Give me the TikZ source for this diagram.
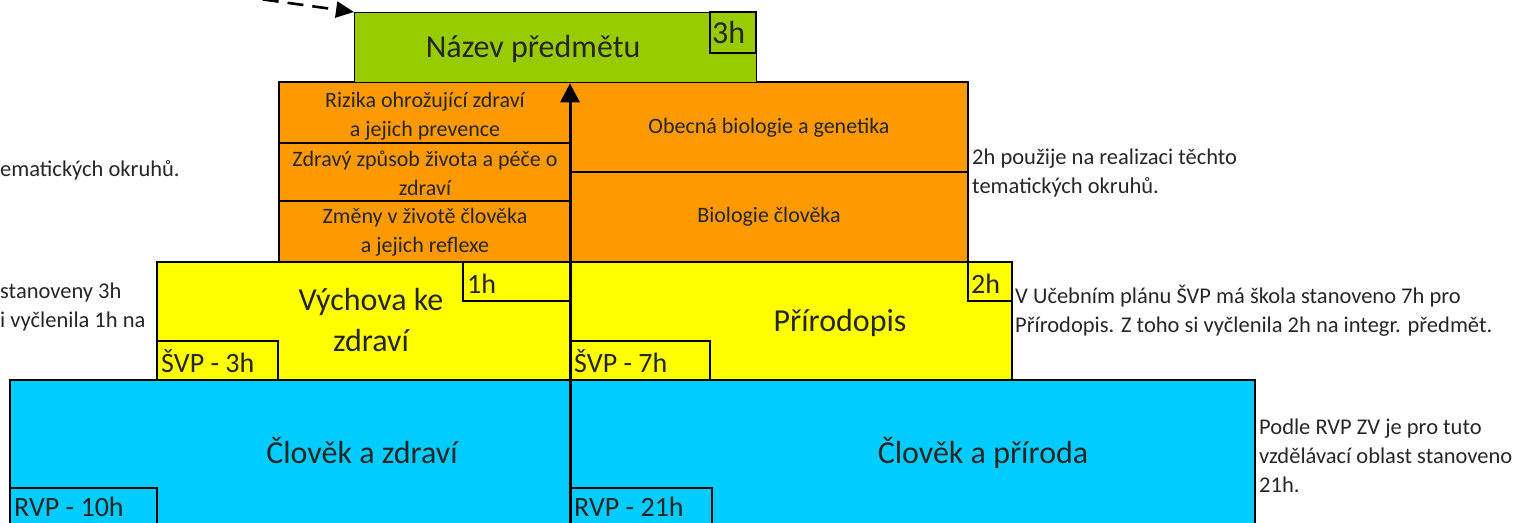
\documentclass[tikz,border=0pt]{standalone}
\usepackage{fontspec}
\setmainfont{Carlito}
\usetikzlibrary{arrows.meta}
\definecolor{zelena}{HTML}{99CC00}
\definecolor{oranzova}{HTML}{FF9900}
\definecolor{zluta}{HTML}{FFFF00}
\definecolor{modra}{HTML}{00CCFF}

\begin{document}
\begin{tikzpicture}[x=1pt,y=-1pt,
    blok/.style={draw=black,line width=1.3pt},
    velky/.style={font=\fontsize{32}{41}\selectfont,align=center,anchor=base,inner sep=0pt,text=black!85},
    maly/.style={font=\fontsize{22}{29}\selectfont,align=center,anchor=base,inner sep=0pt,text=black!85},
    popis/.style={font=\fontsize{22.5}{29}\selectfont,align=left,anchor=base west,inner sep=0pt,text=black!85},
    stitek/.style={font=\fontsize{28}{30}\selectfont,anchor=base west,inner sep=0pt,text=black!85}]
\useasboundingbox (0,0) rectangle (1514,522);

% Bloky
\filldraw[blok,fill=modra] (10,380) rectangle (1255,540);
\draw[blok] (10,488) rectangle (157,540);
\draw[blok] (570,488) rectangle (712,540);
\filldraw[blok,fill=zluta] (157,262) rectangle (1012,380);
\draw[blok] (463,262) rectangle (570,301);
\draw[blok] (968,262) rectangle (1012,301);
\draw[blok] (157,341) rectangle (278,380);
\draw[blok] (570,341) rectangle (710,380);
\filldraw[blok,fill=oranzova] (279,82) rectangle (968,262);
\draw[blok] (279,143) -- (570,143);
\draw[blok] (279,201) -- (570,201);
\draw[blok] (570,172) -- (968,172);
\node[blok,fill=zelena,minimum width=402,minimum height=70,anchor=north west,inner sep=0pt] (predmet) at (354,12) {};
\draw[blok] (710,12) rectangle (756,53);

% Texty (base = posledni radek)
\node[velky] (nazev) at (533,57) {Název předmětu};
\node[stitek,font=\fontsize{32}{34}\selectfont] (h3) at (712,43) {3h};
\node[maly] (rizika) at (425,136) {Rizika ohrožující zdraví\\a jejich prevence};
\node[maly] (zpusob) at (425,195) {Zdravý způsob života a péče o\\zdraví};
\node[maly] (zmeny) at (425,252) {Změny v životě člověka\\a jejich reflexe};
\node[maly] (obecna) at (769,133) {Obecná biologie a genetika};
\node[maly] (biologie) at (769,222) {Biologie člověka};
\node[velky] (vychova) at (371,351) {Výchova ke\\zdraví};
\node[velky] (prirodopis) at (840,331) {Přírodopis};
\node[stitek] (h1) at (467,293) {1h};
\node[stitek] (h2) at (971,293) {2h};
\node[stitek] (svp3) at (161,372) {ŠVP - 3h};
\node[stitek] (svp7) at (574,372) {ŠVP - 7h};
\node[velky] (clzdravi) at (362,463) {Člověk a zdraví};
\node[velky] (clpriroda) at (983,463) {Člověk a příroda};
\node[stitek] (rvp10) at (14,516) {RVP - 10h};
\node[stitek] (rvp21) at (574,516) {RVP - 21h};

% Popisky
\node[popis] (vlevo1) at (0,176) {ematických okruhů.};
\node[popis] (vlevo2) at (0,327) {stanoveny 3h\\i vyčlenila 1h na};
\node[popis] (vpravo1) at (972,193) {2h použije na realizaci těchto\\tematických okruhů.};
\node[popis] (vpravo2) at (1015,332) {V Učebním plánu ŠVP má škola stanoveno 7h pro\\Přírodopis. Z toho si vyčlenila 2h na integr. předmět.};
\node[popis] (vpravo3) at (1259,492) {Podle RVP ZV je pro tuto\\vzdělávací oblast stanoveno\\21h.};

% Šipky
\coordinate (pata) at (570,540);
\coordinate (odkud) at (238,-4);
\draw[-{Triangle[length=19pt,width=19pt]},line width=3pt] (pata) -- (predmet.south -| pata);
\draw[-{Triangle[length=18pt,width=16pt]},line width=2.6pt,dash pattern=on 16pt off 9pt] (odkud) -- (predmet.north west);
\end{tikzpicture}
\end{document}
